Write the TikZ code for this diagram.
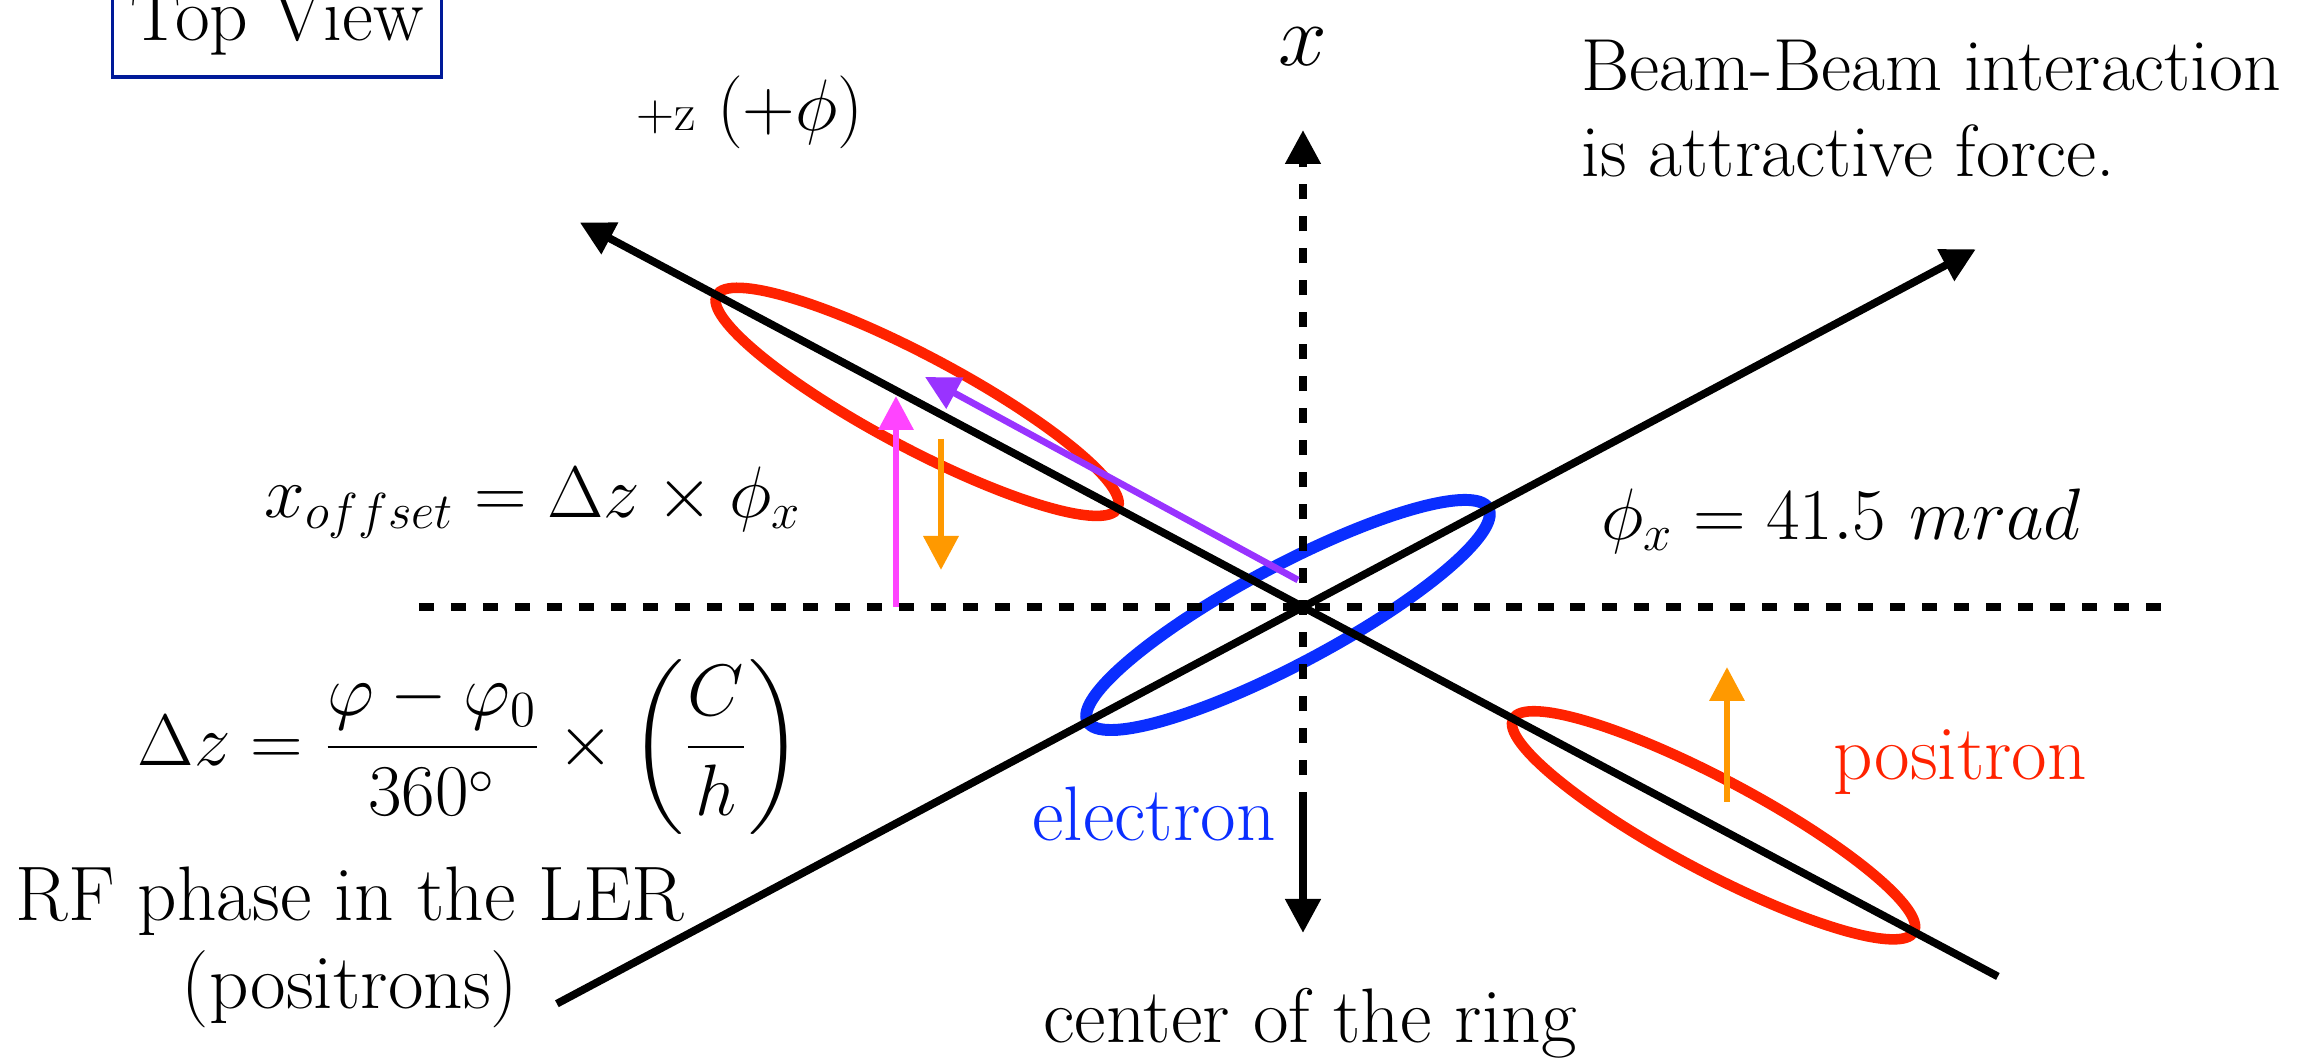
\documentclass[tikz,border=0pt]{standalone}
\usepackage{amsmath}
\usetikzlibrary{arrows.meta}

\definecolor{rojo}{HTML}{FF2200}
\definecolor{azul}{HTML}{0A2EFF}
\definecolor{magenta2}{HTML}{FF44FF}
\definecolor{naranja}{HTML}{FF9900}
\definecolor{violeta}{HTML}{9933FF}
\definecolor{marino}{HTML}{001A99}

\begin{document}
\begin{tikzpicture}[
					eje/.style={line width=2.2pt},
					punteado/.style={line width=2.2pt, dash pattern=on 4.3pt off 4.8pt},
					flecha/.style={-{Triangle[length=0.34cm,width=0.34cm]}},
					fuerza/.style={line width=1.9pt, -{Triangle[length=0.34cm,width=0.34cm]}},
					haz/.style={line width=3pt},
					texto/.style={font=\fontsize{22}{25}\selectfont, inner sep=0pt}
				]
				% Parámetros de geometría
				\def\ang{28}     % ángulo de cruce
				\def\a{2.27}     % semieje mayor de cada haz
				\def\b{0.46}     % semieje menor

				\useasboundingbox (-13.03,-4.53) rectangle (10.18,6.07);

				% --- Puntos de los ejes ---
				\coordinate (O) at (0,0);
				\coordinate (zpos) at (180-\ang:8.19);
				\coordinate (zneg) at (-\ang:7.87);
				\coordinate (epos) at (\ang:7.62);
				\coordinate (eneg) at (180+\ang:8.45);
				\coordinate (xtop) at (0,4.77);
				\coordinate (xmid) at (0,-2.0);
				\coordinate (xbot) at (0,-3.26);
				\coordinate (hizq) at (-8.84,0);
				\coordinate (hder) at (8.58,0);

				% --- Haces ---
				\draw[haz, rojo] (180-\ang:4.37) ellipse [x radius=\a cm, y radius=\b cm, rotate=-\ang];
				\draw[haz, rojo] (-\ang:4.65) ellipse [x radius=\a cm, y radius=\b cm, rotate=-\ang];
				\draw[haz, azul, line width=3.4pt] (180+\ang:0.17) ellipse [x radius=\a cm, y radius=0.49cm, rotate=\ang];

				% --- Ejes ---
				\draw[punteado] (hizq) -- (hder);
				\draw[punteado, flecha] (xmid) -- (xtop);
				\draw[eje, flecha] (xmid) -- (xbot);
				\draw[eje, flecha] (zneg) -- (zpos);
				\draw[eje, flecha] (eneg) -- (epos);

				% --- Fuerzas ---
				\coordinate (m1) at (-4.07,0);     \coordinate (m2) at (-4.07,2.11);
				\coordinate (n1) at (-3.62,1.68);  \coordinate (n2) at (-3.62,0.37);
				\coordinate (v1) at (-0.05,0.27);  \coordinate (v2) at (-3.78,2.30);
				\coordinate (p1) at (4.24,-1.95);  \coordinate (p2) at (4.24,-0.60);
				\draw[fuerza, magenta2] (m1) -- (m2);
				\draw[fuerza, naranja] (n1) -- (n2);
				\draw[fuerza, violeta] (v1) -- (v2);
				\draw[fuerza, naranja] (p1) -- (p2);

				% --- Textos ---
				\node[texto, font=\fontsize{21.5}{24}\selectfont, draw=marino, line width=1.1pt, minimum width=3.29cm, minimum height=1.1cm] (vista) at (-10.26,5.85) {Top View};
				\node[font=\fontsize{38}{40}\selectfont, inner sep=0pt] (ejex) at (0,5.60) {$x$};
				\node[font=\fontsize{20}{22}\selectfont, inner sep=0pt] (ejez) at (-5.53,4.95) {{\fontsize{15}{16}\selectfont +z} $(+\phi)$};
				\node[texto, font=\fontsize{21}{24.5}\selectfont, align=left, anchor=north west] (atraccion) at (2.78,5.68) {Beam-Beam interaction\\is attractive force.};
				\node[texto] (xoffset) at (-7.70,1.04) {$x_{offset} = \Delta z \times \phi_x$};
				\node[texto] (phix) at (5.38,0.86) {$\phi_x = 41.5\ mrad$};
				\node[texto] (deltaz) at (-8.33,-1.40) {$\Delta z = \dfrac{\varphi - \varphi_0}{360^\circ} \times \left(\dfrac{C}{h}\right)$};
				\node[texto, align=center] (rf) at (-9.53,-3.40) {RF phase in the LER\\(positrons)};
				\node[texto, azul] (electron) at (-1.49,-2.07) {electron};
				\node[texto, rojo] (positron) at (6.57,-1.55) {positron};
				\node[texto] (centro) at (0.07,-4.16) {center of the ring};

			\end{tikzpicture}
\end{document}
